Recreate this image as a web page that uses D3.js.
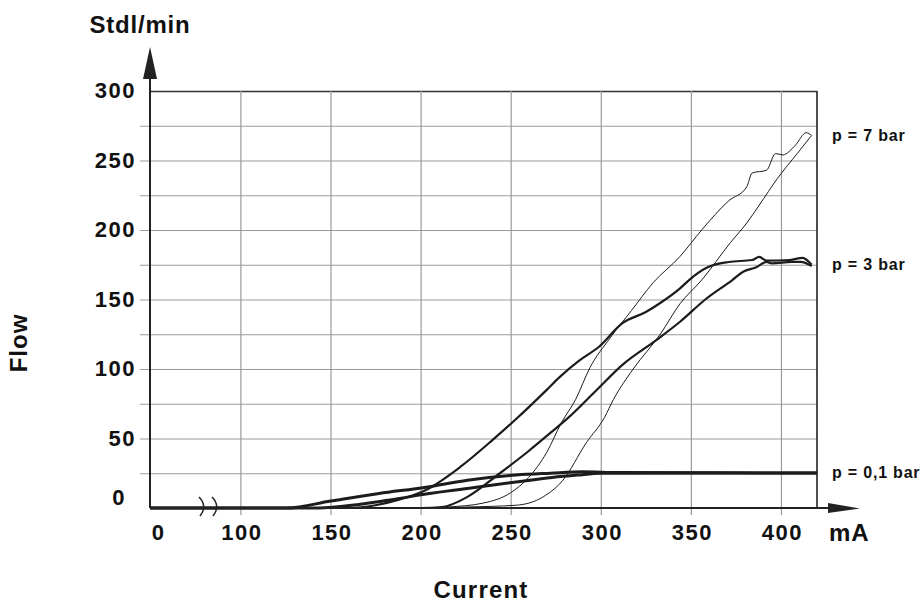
<!DOCTYPE html>
<html>
<head>
<meta charset="utf-8">
<script src="https://cdn.jsdelivr.net/npm/d3@7"></script>
<style>
  body { margin: 0; background: #fff; }
  svg text { font-family: "Liberation Sans", Arial, sans-serif; font-weight: bold; fill: #111; }
</style>
</head>
<body>
<svg width="922" height="603"></svg>
<script>
// Tick labels
const xTicks = [0, 100, 150, 200, 250, 300, 350, 400]
const yTicks = [0, 50, 100, 150, 200, 250, 300]
const xGrid = [100, 150, 200, 250, 300, 350, 400]
const yGrid = [25, 50, 75, 100, 125, 150, 175, 200, 225, 250, 275, 300]

// p = 7 bar, left and right branch of the hysteresis loop
const p7aCurrent = [0, 200, 215, 235, 250, 260, 270, 278, 286, 294, 305, 317, 329, 344, 356, 371, 381, 384, 392, 397, 401, 408, 414, 417]
const p7aFlow = [0, 0, 0.7, 3.6, 11, 22, 40, 61, 78, 101, 122, 142, 162, 181, 200, 221, 231, 241, 243, 255, 254, 261, 270, 268]
const p7bCurrent = [0, 200, 225, 253, 268, 279, 292, 302, 307, 318, 333, 344, 356, 372, 381, 388, 398, 409, 417]
const p7bFlow = [0, 0, 0.7, 2, 8, 20, 47, 65, 78, 100, 125, 147, 164, 191, 205, 218, 237, 255, 268]

// p = 3 bar
const p3aCurrent = [0, 160, 175, 188, 203, 222, 240, 253, 270, 277, 288, 299, 312, 325, 333, 344, 349, 359, 371, 384, 388, 392, 405, 412, 417]
const p3aFlow = [0, 0, 2, 6, 13, 29.5, 49, 64, 85, 94, 106, 116, 133, 141, 147.5, 158, 164, 173, 177, 178.4, 180.6, 178, 178.4, 180, 175]
const p3bCurrent = [0, 200, 212, 226, 244, 260, 272, 282, 297, 312, 331, 344, 358, 373, 379, 386, 392, 395, 406, 411, 417]
const p3bFlow = [0, 0, 0.7, 8, 25, 41, 54, 65, 84, 103, 121, 134, 150, 164, 170, 173, 177, 176, 177, 177, 174]

// p = 0,1 bar
const p01aCurrent = [0, 126, 150, 177, 203, 226, 253, 272, 290, 310, 420]
const p01aFlow = [0, 0, 5, 10.5, 15, 20, 23.7, 25, 26, 25.5, 25.2]
const p01bCurrent = [0, 140, 183, 203, 226, 253, 273, 287, 300, 420]
const p01bFlow = [0, 0, 5.8, 10, 14, 18.7, 22, 23.7, 25, 25.2]

const pressureLabels = ['p = 7 bar', 'p = 3 bar', 'p = 0,1 bar']

function createVisualization() {
  const svg = d3.select('svg')
  const left = 150, right = 817, top = 91, bottom = 508

  // Broken axis: 0..100 mA squeezed into the width of 50 mA
  const xScale = d3.scaleLinear()
    .domain([0, 100, 420])
    .range([left, left + 90.4, right])

  const yScale = d3.scaleLinear()
    .domain([0, 300])
    .range([bottom, top])

  // Horizontal grid (sticks out a bit to the left of the axis)
  svg.append('g')
    .attr('transform', `translate(${right}, 0)`)
    .call(d3.axisLeft(yScale).tickValues(yGrid).tickSize(right - left + 10).tickFormat(''))
    .call(g => g.select('.domain').remove())
    .call(g => g.selectAll('line').attr('stroke', '#9a9a9a').attr('stroke-width', 1.2))
    .call(g => g.selectAll('.tick').filter(d => d === 300).select('line')
      .attr('x2', -(right - left)).attr('stroke', '#333').attr('stroke-width', 1.6))

  // Vertical grid (sticks out below the axis)
  svg.append('g')
    .attr('transform', `translate(0, ${top})`)
    .call(d3.axisBottom(xScale).tickValues(xGrid).tickSize(bottom - top + 7).tickFormat(''))
    .call(g => g.select('.domain').remove())
    .call(g => g.selectAll('line').attr('stroke', '#9a9a9a').attr('stroke-width', 1.2))

  // Right border
  svg.append('line')
    .attr('x1', right).attr('x2', right)
    .attr('y1', top).attr('y2', bottom)
    .attr('stroke', '#222').attr('stroke-width', 1.6)

  // Curves
  const branches = [
    { current: p01aCurrent, flow: p01aFlow, width: 3 },
    { current: p01bCurrent, flow: p01bFlow, width: 3 },
    { current: p3aCurrent, flow: p3aFlow, width: 2.2 },
    { current: p3bCurrent, flow: p3bFlow, width: 2.2 },
    { current: p7aCurrent, flow: p7aFlow, width: 1 },
    { current: p7bCurrent, flow: p7bFlow, width: 1 }
  ]

  const line = d3.line()
    .x(d => xScale(d[0]))
    .y(d => yScale(d[1]))
    .curve(d3.curveMonotoneX)

  svg.append('g')
    .selectAll('path')
    .data(branches)
    .enter()
    .append('path')
    .attr('d', b => line(d3.zip(b.current, b.flow)))
    .attr('fill', 'none')
    .attr('stroke', '#1c1c1c')
    .attr('stroke-width', b => b.width)
    .attr('stroke-linejoin', 'round')

  // Axes with arrows
  svg.append('line')
    .attr('x1', left).attr('x2', left)
    .attr('y1', bottom).attr('y2', 76)
    .attr('stroke', '#222').attr('stroke-width', 2)
  svg.append('path')
    .attr('d', `M${left - 7},79 L${left},47 L${left + 7},79 Z`)
    .attr('fill', '#222')
  svg.append('line')
    .attr('x1', left).attr('x2', 832)
    .attr('y1', bottom).attr('y2', bottom)
    .attr('stroke', '#222').attr('stroke-width', 2)
  svg.append('path')
    .attr('d', `M828,${bottom - 5} L860,${bottom + 0.5} L828,${bottom + 5} Z`)
    .attr('fill', '#222')

  // Axis break marks
  ;[51, 64].forEach(dx => {
    svg.append('path')
      .attr('d', `M${left + dx - 2},${bottom - 11} C${left + dx + 4},${bottom - 5} ${left + dx + 4},${bottom + 2} ${left + dx - 1},${bottom + 8}`)
      .attr('fill', 'none')
      .attr('stroke', '#222')
      .attr('stroke-width', 1.6)
  })

  // Tick labels
  svg.append('g')
    .attr('transform', `translate(0, ${bottom})`)
    .call(d3.axisBottom(xScale).tickValues(xTicks).tickSize(0).tickPadding(16))
    .call(g => g.select('.domain').remove())
    .call(g => g.selectAll('text')
      .attr('font-size', 22).attr('font-family', null)
      .style('letter-spacing', '1.5px')
      .attr('dx', d => d === 0 ? 8 : 1))

  svg.append('g')
    .attr('transform', `translate(${left}, 0)`)
    .call(d3.axisLeft(yScale).tickValues(yTicks).tickSize(0).tickPadding(14))
    .call(g => g.select('.domain').remove())
    .call(g => g.selectAll('text')
      .attr('font-size', 22).attr('font-family', null)
      .style('letter-spacing', '1.5px')
      .attr('dy', '0.3em'))
    .call(g => g.selectAll('.tick').filter(d => d === 0).select('text')
      .attr('dx', -10).attr('dy', '-0.15em'))

  // Pressure labels next to the last point of each loop
  const ends = [p7aFlow, p3aFlow, p01aFlow].map(f => f[f.length - 1])
  svg.append('g')
    .selectAll('text')
    .data(pressureLabels)
    .enter()
    .append('text')
    .attr('x', 832)
    .attr('y', (d, i) => yScale(ends[i]))
    .attr('dy', '0.33em')
    .attr('font-size', 16)
    .style('letter-spacing', '0.8px')
    .text(d => d)

  // Axis titles
  svg.append('text')
    .attr('x', 140).attr('y', 33)
    .attr('text-anchor', 'middle')
    .attr('font-size', 24)
    .style('letter-spacing', '0.8px')
    .text('Stdl/min')

  svg.append('text')
    .attr('x', 829).attr('y', 541)
    .attr('font-size', 24)
    .style('letter-spacing', '1px')
    .text('mA')

  svg.append('text')
    .attr('x', 481).attr('y', 598)
    .attr('text-anchor', 'middle')
    .attr('font-size', 24)
    .style('letter-spacing', '1.2px')
    .text('Current')

  svg.append('text')
    .attr('transform', 'translate(27, 343) rotate(-90)')
    .attr('text-anchor', 'middle')
    .attr('font-size', 24)
    .style('letter-spacing', '1px')
    .text('Flow')
}

createVisualization()
</script>
</body>
</html>
